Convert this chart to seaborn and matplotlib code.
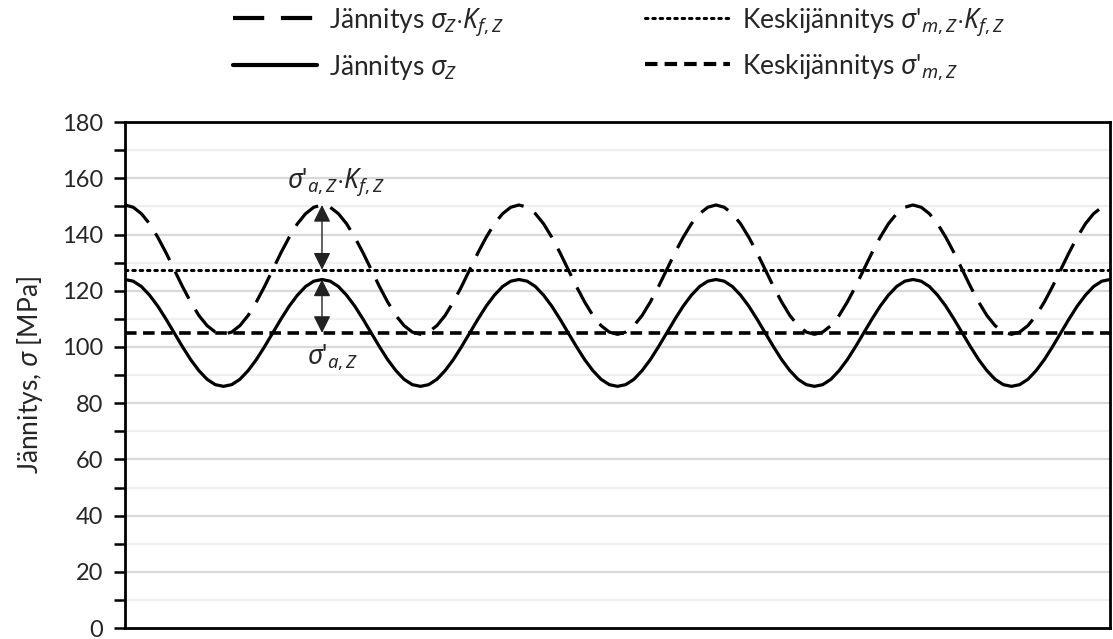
import numpy as np
import pandas as pd
import matplotlib
matplotlib.use("Agg")
import matplotlib.pyplot as plt
import seaborn as sns
from matplotlib.lines import Line2D

# ---- data ----
# one period (0..345 deg, 15 deg steps) of each curve
period_deg = [0, 15, 30, 45, 60, 75, 90, 105, 120, 135, 150, 165,
              180, 195, 210, 225, 240, 255, 270, 285, 300, 315, 330, 345]
stress_z = [124.0, 123.4, 121.5, 118.4, 114.5, 109.9, 105.0, 100.1, 95.5, 91.6, 88.5, 86.6,
            86.0, 86.6, 88.5, 91.6, 95.5, 100.1, 105.0, 109.9, 114.5, 118.4, 121.5, 123.4]
stress_z_kf = [150.5, 149.7, 147.4, 143.8, 139.0, 133.5, 127.5, 121.5, 116.0, 111.2, 107.6, 105.3,
               104.5, 105.3, 107.6, 111.2, 116.0, 121.5, 127.5, 133.5, 139.0, 143.8, 147.4, 149.7]
n_periods = 5
mean_z = 105.0
mean_z_kf = 127.5
amp_z_peak = 124.0
amp_kf_peak = 150.5
arrow_x = 360
y_ticks = [0, 20, 40, 60, 80, 100, 120, 140, 160, 180]

x_all = [p + 360 * k for k in range(n_periods) for p in period_deg] + [360 * n_periods]
s_all = stress_z * n_periods + [stress_z[0]]
skf_all = stress_z_kf * n_periods + [stress_z_kf[0]]
df = pd.DataFrame({"x": x_all, "s": s_all, "skf": skf_all})

sns.set_theme(style="white")
plt.rcParams['font.family'] = ['Lato', 'DejaVu Sans']
plt.rcParams['mathtext.fontset'] = 'custom'
plt.rcParams['mathtext.rm'] = 'Noto Sans'
plt.rcParams['mathtext.it'] = 'Noto Sans:italic'

fig = plt.figure(figsize=(11.13, 6.39), dpi=100)
ax = fig.add_axes([0.1123, 0.017, 0.885, 0.792])

FS = 17
FSL = 19
lw = 2.3
# grid
for v in np.arange(10, 180, 20):
    ax.axhline(v, color="#efefef", lw=1.6, zorder=0)
for v in y_ticks[1:]:
    ax.axhline(v, color="#d9d9d9", lw=1.6, zorder=0)

long_dash = (0, (9.5, 4))
short_dash = (0, (3.2, 1.8))
dot = (0, (0.8, 1.6))

sns.lineplot(data=df, x="x", y="skf", ax=ax, color="black", lw=lw, zorder=3)
ax.lines[-1].set_linestyle(long_dash)
sns.lineplot(data=df, x="x", y="s", ax=ax, color="black", lw=lw, zorder=3)
ax.axhline(mean_z_kf, color="black", lw=2.2, linestyle=dot, zorder=2, dash_capstyle="round")
ax.axhline(mean_z, color="black", lw=2.6, linestyle=short_dash, zorder=2)

# amplitude arrows
ap = dict(arrowstyle="<|-|>", color="#222222", lw=1.0, mutation_scale=26, shrinkA=0, shrinkB=0)
ax.annotate("", xy=(arrow_x, amp_kf_peak), xytext=(arrow_x, mean_z_kf), arrowprops=ap, zorder=4)
ax.annotate("", xy=(arrow_x, amp_z_peak), xytext=(arrow_x, mean_z), arrowprops=ap, zorder=4)
ax.text(arrow_x + 25, 153, r"$\sigma$'$_{a,Z}{\cdot}K_{f,Z}$", ha="center", va="bottom", fontsize=FSL)
ax.text(arrow_x + 20, 101.5, r"$\sigma$'$_{a,Z}$", ha="center", va="top", fontsize=FSL)

ax.set_xlim(0, 360 * n_periods)
ax.set_ylim(0, 180)
ax.set_yticks(y_ticks)
ax.set_yticks(np.arange(10, 180, 20), minor=True)
ax.set_xticks([])
ax.tick_params(axis="y", which="major", length=8, width=1.8, direction="out", labelsize=FS,
               color="black", left=True, pad=8)
ax.tick_params(axis="y", which="minor", length=8, width=1.8, direction="out", color="black", left=True)
for sp in ax.spines.values():
    sp.set_color("black")
    sp.set_linewidth(2.0)
ax.set_xlabel("")
ax.set_ylabel(r"Jännitys, $\sigma$ [MPa]", fontsize=FSL, labelpad=12)

handles = [
    Line2D([], [], color="black", lw=3, linestyle=(0, (7.5, 4))),
    Line2D([], [], color="black", lw=3),
    Line2D([], [], color="black", lw=2.2, linestyle=dot, dash_capstyle="round"),
    Line2D([], [], color="black", lw=3, linestyle=(0, (3, 1.7))),
]
labels = [r"Jännitys $\sigma_Z{\cdot}K_{f,Z}$", r"Jännitys $\sigma_Z$",
          r"Keskijännitys $\sigma$'$_{m,Z}{\cdot}K_{f,Z}$", r"Keskijännitys $\sigma$'$_{m,Z}$"]
leg = fig.legend(handles, labels, ncol=2, loc="upper left", bbox_to_anchor=(0.209, 0.99),
                 frameon=False, fontsize=FSL, handlelength=3.2, handletextpad=0.45,
                 columnspacing=5.35, labelspacing=0.55, borderpad=0, borderaxespad=0)

fig.savefig("out.png", dpi=100)
